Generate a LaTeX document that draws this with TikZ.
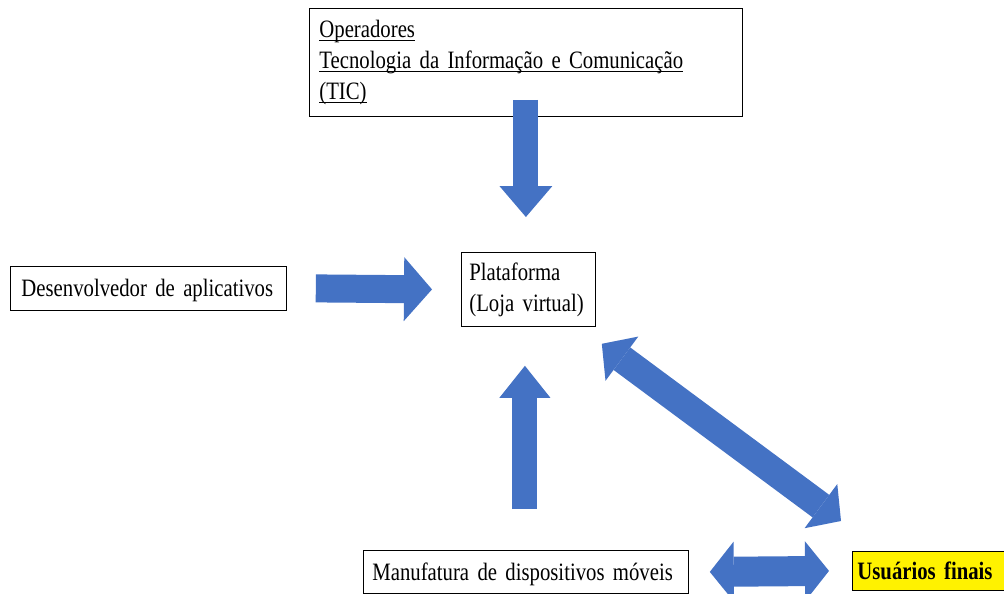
\documentclass[tikz,border=0pt]{standalone}
\usepackage{fontspec}
\setmainfont[FakeStretch=0.83,WordSpace=0.7]{Liberation Serif}
\usepackage{xcolor}
\usepackage{tikz}
\usetikzlibrary{arrows.meta,calc,positioning}

\definecolor{officeblue}{HTML}{4472C4}
\newcommand{\undl}[1]{\leavevmode\setbox0=\hbox{#1}\rlap{\rule[-3.4pt]{\wd0}{0.9pt}}\box0}

\begin{document}
\begin{tikzpicture}[x=1pt,y=-1pt,
  box/.style={draw, line width=0.8pt, anchor=north west, align=left, inner ysep=0pt,
    font=\fontsize{25pt}{31pt}\selectfont},
  oneline/.style={text height=17pt, text depth=0pt},
  blockarrow/.style args={#1/#2/#3}{draw=officeblue, line width=#1pt,
    -{Triangle[width=#2pt,length=#3pt,line width=0pt]}},
  blockdouble/.style args={#1/#2/#3}{draw=officeblue, line width=#1pt,
    {Triangle[width=#2pt,length=#3pt,line width=0pt]}-{Triangle[width=#2pt,length=#3pt,line width=0pt]}}]
% Frame
\clip (0,0) rectangle (1004,594);

% Boxes
\node[box, minimum width=433pt, minimum height=108pt, inner xsep=10pt, text width=413pt] (tic) at (309,8)
  {\undl{Operadores}\\\undl{Tecnologia da Informação e Comunicação}\\\undl{(TIC)}};
\node[box, minimum width=134pt, minimum height=74pt, inner xsep=8pt, text width=118pt] (plat) at (461,252)
  {\mbox{Plataforma}\\\mbox{(Loja virtual)}};
\node[box, oneline, minimum width=276pt, minimum height=44pt, inner xsep=11pt, text width=254pt] (dev) at (10,266)
  {\mbox{Desenvolvedor de aplicativos}};
\node[box, oneline, minimum width=325pt, minimum height=43pt, inner xsep=9pt, text width=307pt] (manu) at (363,550)
  {\mbox{Manufatura de dispositivos móveis}};
\node[box, oneline, fill=yellow, minimum width=160pt, minimum height=39pt, inner xsep=5pt, text width=150pt,
  font=\fontsize{25pt}{31pt}\selectfont\bfseries] (usr) at (852,551)
  {\mbox{Usuários finais}};

% Arrows into the platform
\draw[blockarrow=25/53/31] ([yshift=17pt]tic.south) -- ([xshift=-2.5pt,yshift=35pt]plat.north);
\draw[blockarrow=28/64/28] ([xshift=29pt]dev.east) -- ([xshift=-29pt]plat.west);
\draw[blockarrow=25/51/32] ([xshift=-1pt,yshift=41pt]manu.north) -- ([xshift=-3.5pt,yshift=-39pt]plat.south);

% Two-way arrows with the end users
\draw[blockdouble=28/55/25] ([xshift=6pt,yshift=-17pt]plat.south east) -- ([xshift=-11pt,yshift=30pt]usr.north west);
\draw[blockdouble=30/60/24] ([xshift=21pt]manu.east) -- ([xshift=-23pt]usr.west);
\end{tikzpicture}
\end{document}
